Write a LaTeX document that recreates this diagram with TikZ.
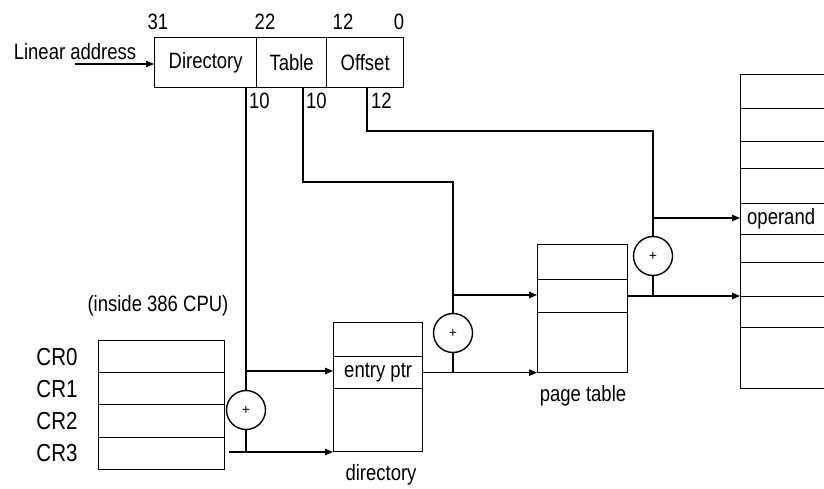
\documentclass[tikz,border=0pt]{standalone}
\usepackage{fontspec}
\setmainfont{Liberation Sans}
\usetikzlibrary{arrows.meta}
\newcommand{\tx}[1]{\scalebox{1}[1.2]{#1}}
\begin{document}
\begin{tikzpicture}[x=1pt,y=-1pt,
  txt/.style={inner sep=0pt, font=\fontsize{18.5}{20}\selectfont},
  crtxt/.style={inner sep=0pt, font=\fontsize{20.5}{22}\selectfont},
  cell/.style={draw, line width=1.3pt, inner sep=0pt, anchor=north west, font=\fontsize{18.5}{20}\selectfont},
  adder/.style={draw, circle, line width=1.4pt, minimum size=39pt, inner sep=0pt, font=\fontsize{14}{14}\selectfont},
  wire/.style={line width=1.3pt},
  arr/.style={wire, -{Triangle[length=8pt,width=6.5pt]}},
]
\useasboundingbox (0,0) rectangle (824,489);
\fill[white] (0,0) rectangle (824,489);
\begin{scope}
\clip (0,0) rectangle (824,489);

% linear address
\node[txt] (la) at (75,52) {\tx{Linear address}};
\node[cell, minimum width=102pt, minimum height=50pt] (fdir) at (154,37) {\tx{Directory}};
\node[cell, minimum width=70pt, minimum height=50pt] (ftab) at (256,37) {\tx{Table}};
\node[cell, minimum width=77pt, minimum height=50pt] (foff) at (326,37) {\tx{Offset}};
\node[txt] (b31) at (158,22) {\tx{31}};
\node[txt] (b22) at (265,22) {\tx{22}};
\node[txt] (b12) at (343,22) {\tx{12}};
\node[txt] (b0) at (399,22) {\tx{0}};
\node[txt, anchor=west] (n10a) at (249,101) {\tx{10}};
\node[txt, anchor=west] (n10b) at (306,101) {\tx{10}};
\node[txt, anchor=west] (n12) at (371,101) {\tx{12}};

% CR registers
\node[txt] (cpu) at (158,306) {\tx{(inside 386 CPU)}};
\node[cell, minimum width=126pt, minimum height=32pt] (cr0) at (98,340) {};
\node[cell, minimum width=126pt, minimum height=32pt] (cr1) at (98,372) {};
\node[cell, minimum width=126pt, minimum height=33pt] (cr2) at (98,404) {};
\node[cell, minimum width=126pt, minimum height=32pt] (cr3) at (98,437) {};
\node[crtxt] (lcr0) at (57,357) {\tx{CR0}};
\node[crtxt] (lcr1) at (57,389) {\tx{CR1}};
\node[crtxt] (lcr2) at (57,421) {\tx{CR2}};
\node[crtxt] (lcr3) at (57,453) {\tx{CR3}};

% directory
\node[cell, minimum width=89pt, minimum height=34pt] (d1) at (333,322) {};
\node[cell, minimum width=89pt, minimum height=32pt] (d2) at (333,356) {\tx{entry ptr}};
\node[cell, minimum width=89pt, minimum height=63pt] (d3) at (333,388) {};
\node[txt] (ldir) at (381,475) {\tx{directory}};

% page table
\node[cell, minimum width=90pt, minimum height=35pt] (p1) at (537,244) {};
\node[cell, minimum width=90pt, minimum height=33pt] (p2) at (537,279) {};
\node[cell, minimum width=90pt, minimum height=60pt] (p3) at (537,312) {};
\node[txt] (lpt) at (583,396) {\tx{page table}};

% memory
\node[cell, minimum width=110pt, minimum height=34pt] (m1) at (740,74) {};
\node[cell, minimum width=110pt, minimum height=33pt] (m2) at (740,108) {};
\node[cell, minimum width=110pt, minimum height=27pt] (m3) at (740,141) {};
\node[cell, minimum width=110pt, minimum height=35pt] (m4) at (740,168) {};
\node[cell, minimum width=110pt, minimum height=31pt] (m5) at (740,203) {};
\node[cell, minimum width=110pt, minimum height=28pt] (m6) at (740,234) {};
\node[cell, minimum width=110pt, minimum height=34pt] (m7) at (740,262) {};
\node[cell, minimum width=110pt, minimum height=31pt] (m8) at (740,296) {};
\node[cell, minimum width=110pt, minimum height=61pt] (m9) at (740,327) {};
\node[txt, anchor=west] (lop) at (747,219) {\tx{operand}};

% adders
\node[adder] (a1) at (246,410) {+};
\node[adder] (a2) at (453,333) {+};
\node[adder] (a3) at (653,256) {+};

% coordinates
\coordinate (lain) at (75,64);
\coordinate (sdir) at (246,87);
\coordinate (stab) at (303,87);
\coordinate (soff) at (367,87);
\coordinate (j1) at (246,371);
\coordinate (cr3o) at (229,452);
\coordinate (k1) at (453,182);
\coordinate (j3) at (453,295);
\coordinate (k2) at (653,131);
\coordinate (j5) at (653,218);
\coordinate (pout) at (627,296);

% connectors
\draw[arr] (lain) -- (lain -| fdir.west);
\draw[wire] (sdir) -- (a1.north);
\draw[arr] (j1) -- (j1 -| d2.west);
\draw[wire] (a1.south) -- (a1.south |- cr3o);
\draw[arr] (cr3o) -- (cr3o -| d3.west);

\draw[wire] (stab) |- (k1) -- (a2.north);
\draw[arr] (j3) -- (j3 -| p2.west);
\draw[wire] (a2.south) -- (a2.south |- d2.east);
\draw[arr] (d2.east) -- (d2.east -| p3.west);

\draw[wire] (soff) |- (k2) -- (a3.north);
\draw[arr] (j5) -- (j5 -| m5.west);
\draw[wire] (a3.south) -- (a3.south |- pout);
\draw[arr] (pout) -- (pout -| m8.west);
\end{scope}
\end{tikzpicture}
\end{document}
